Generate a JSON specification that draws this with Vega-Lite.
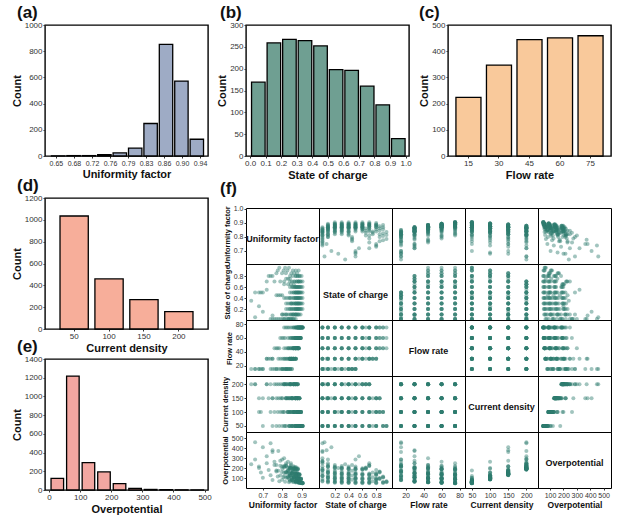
{
  "$schema": "https://vega.github.io/schema/vega-lite/v6.json",
  "background": "white",
  "padding": {"left": 10, "top": 3, "right": 5, "bottom": 5},
  "spacing": 3,
  "datasets": {
    "ufh": [
      {"lo": 0.638, "hi": 0.669, "n": 1}, {"lo": 0.669, "hi": 0.7, "n": 3}, {"lo": 0.7, "hi": 0.731, "n": 3},
      {"lo": 0.731, "hi": 0.762, "n": 10}, {"lo": 0.762, "hi": 0.793, "n": 24}, {"lo": 0.793, "hi": 0.824, "n": 60},
      {"lo": 0.824, "hi": 0.855, "n": 248}, {"lo": 0.855, "hi": 0.886, "n": 852}, {"lo": 0.886, "hi": 0.917, "n": 572},
      {"lo": 0.917, "hi": 0.948, "n": 128}
    ],
    "soch": [
      {"lo": 0.0, "hi": 0.1, "n": 169}, {"lo": 0.1, "hi": 0.2, "n": 259}, {"lo": 0.2, "hi": 0.3, "n": 267},
      {"lo": 0.3, "hi": 0.4, "n": 264}, {"lo": 0.4, "hi": 0.5, "n": 252}, {"lo": 0.5, "hi": 0.6, "n": 198},
      {"lo": 0.6, "hi": 0.7, "n": 196}, {"lo": 0.7, "hi": 0.8, "n": 160}, {"lo": 0.8, "hi": 0.9, "n": 117},
      {"lo": 0.9, "hi": 1.0, "n": 40}
    ],
    "flowh": [
      {"flow": 15, "n": 224}, {"flow": 30, "n": 347}, {"flow": 45, "n": 444}, {"flow": 60, "n": 451}, {"flow": 75, "n": 459}
    ],
    "cdh": [
      {"cd": 50, "n": 1035}, {"cd": 100, "n": 459}, {"cd": 150, "n": 269}, {"cd": 200, "n": 159}
    ],
    "oph": [
      {"lo": 0, "hi": 50, "n": 125}, {"lo": 50, "hi": 100, "n": 1218}, {"lo": 100, "hi": 150, "n": 293},
      {"lo": 150, "hi": 200, "n": 193}, {"lo": 200, "hi": 250, "n": 68}, {"lo": 250, "hi": 300, "n": 18},
      {"lo": 300, "hi": 350, "n": 6}, {"lo": 350, "hi": 400, "n": 4}, {"lo": 400, "hi": 450, "n": 2},
      {"lo": 450, "hi": 500, "n": 1}
    ],
    "samples": [
      {"s": 0.02, "u": 0.77, "f": 15, "c": 50, "o": 176}, {"s": 0.1, "u": 0.82, "f": 15, "c": 50, "o": 104},
      {"s": 0.2, "u": 0.85, "f": 15, "c": 50, "o": 84}, {"s": 0.3, "u": 0.85, "f": 15, "c": 50, "o": 80},
      {"s": 0.4, "u": 0.84, "f": 15, "c": 50, "o": 78}, {"s": 0.45, "u": 0.8, "f": 15, "c": 50, "o": 84},
      {"s": 0.5, "u": 0.7, "f": 15, "c": 50, "o": 104},
      {"s": 0.02, "u": 0.76, "f": 15, "c": 100, "o": 264}, {"s": 0.1, "u": 0.81, "f": 15, "c": 100, "o": 156},
      {"s": 0.2, "u": 0.84, "f": 15, "c": 100, "o": 126}, {"s": 0.3, "u": 0.84, "f": 15, "c": 100, "o": 120},
      {"s": 0.4, "u": 0.83, "f": 15, "c": 100, "o": 118}, {"s": 0.45, "u": 0.79, "f": 15, "c": 100, "o": 126},
      {"s": 0.5, "u": 0.69, "f": 15, "c": 100, "o": 156},
      {"s": 0.02, "u": 0.75, "f": 15, "c": 150, "o": 363}, {"s": 0.1, "u": 0.8, "f": 15, "c": 150, "o": 215},
      {"s": 0.2, "u": 0.83, "f": 15, "c": 150, "o": 173}, {"s": 0.3, "u": 0.83, "f": 15, "c": 150, "o": 165},
      {"s": 0.4, "u": 0.82, "f": 15, "c": 150, "o": 162}, {"s": 0.45, "u": 0.78, "f": 15, "c": 150, "o": 173},
      {"s": 0.5, "u": 0.68, "f": 15, "c": 150, "o": 215},
      {"s": 0.02, "u": 0.74, "f": 15, "c": 200, "o": 450}, {"s": 0.1, "u": 0.8, "f": 15, "c": 200, "o": 286},
      {"s": 0.2, "u": 0.82, "f": 15, "c": 200, "o": 231}, {"s": 0.3, "u": 0.82, "f": 15, "c": 200, "o": 220},
      {"s": 0.4, "u": 0.81, "f": 15, "c": 200, "o": 216}, {"s": 0.45, "u": 0.77, "f": 15, "c": 200, "o": 231},
      {"s": 0.5, "u": 0.66, "f": 15, "c": 200, "o": 286},
      {"s": 0.02, "u": 0.81, "f": 30, "c": 50, "o": 121}, {"s": 0.1, "u": 0.85, "f": 30, "c": 50, "o": 80},
      {"s": 0.2, "u": 0.87, "f": 30, "c": 50, "o": 70}, {"s": 0.3, "u": 0.87, "f": 30, "c": 50, "o": 67},
      {"s": 0.4, "u": 0.87, "f": 30, "c": 50, "o": 66}, {"s": 0.5, "u": 0.87, "f": 30, "c": 50, "o": 65},
      {"s": 0.6, "u": 0.87, "f": 30, "c": 50, "o": 64}, {"s": 0.7, "u": 0.86, "f": 30, "c": 50, "o": 64},
      {"s": 0.75, "u": 0.84, "f": 30, "c": 50, "o": 68}, {"s": 0.8, "u": 0.75, "f": 30, "c": 50, "o": 80},
      {"s": 0.02, "u": 0.8, "f": 30, "c": 100, "o": 193}, {"s": 0.1, "u": 0.84, "f": 30, "c": 100, "o": 128},
      {"s": 0.2, "u": 0.86, "f": 30, "c": 100, "o": 112}, {"s": 0.3, "u": 0.86, "f": 30, "c": 100, "o": 107},
      {"s": 0.4, "u": 0.86, "f": 30, "c": 100, "o": 105}, {"s": 0.5, "u": 0.86, "f": 30, "c": 100, "o": 104},
      {"s": 0.6, "u": 0.86, "f": 30, "c": 100, "o": 103}, {"s": 0.7, "u": 0.85, "f": 30, "c": 100, "o": 103},
      {"s": 0.75, "u": 0.83, "f": 30, "c": 100, "o": 109}, {"s": 0.8, "u": 0.74, "f": 30, "c": 100, "o": 128},
      {"s": 0.02, "u": 0.79, "f": 30, "c": 150, "o": 274}, {"s": 0.1, "u": 0.83, "f": 30, "c": 150, "o": 182},
      {"s": 0.2, "u": 0.85, "f": 30, "c": 150, "o": 160}, {"s": 0.3, "u": 0.85, "f": 30, "c": 150, "o": 152},
      {"s": 0.4, "u": 0.85, "f": 30, "c": 150, "o": 150}, {"s": 0.5, "u": 0.85, "f": 30, "c": 150, "o": 147},
      {"s": 0.6, "u": 0.85, "f": 30, "c": 150, "o": 146}, {"s": 0.7, "u": 0.84, "f": 30, "c": 150, "o": 146},
      {"s": 0.75, "u": 0.82, "f": 30, "c": 150, "o": 155}, {"s": 0.8, "u": 0.73, "f": 30, "c": 150, "o": 182},
      {"s": 0.02, "u": 0.78, "f": 30, "c": 200, "o": 373}, {"s": 0.1, "u": 0.82, "f": 30, "c": 200, "o": 248},
      {"s": 0.2, "u": 0.84, "f": 30, "c": 200, "o": 217}, {"s": 0.3, "u": 0.845, "f": 30, "c": 200, "o": 207},
      {"s": 0.4, "u": 0.84, "f": 30, "c": 200, "o": 204}, {"s": 0.5, "u": 0.84, "f": 30, "c": 200, "o": 201},
      {"s": 0.6, "u": 0.84, "f": 30, "c": 200, "o": 199}, {"s": 0.65, "u": 0.81, "f": 30, "c": 200, "o": 205},
      {"s": 0.7, "u": 0.72, "f": 30, "c": 200, "o": 248},
      {"s": 0.02, "u": 0.835, "f": 45, "c": 50, "o": 90}, {"s": 0.1, "u": 0.87, "f": 45, "c": 50, "o": 69},
      {"s": 0.2, "u": 0.885, "f": 45, "c": 50, "o": 62}, {"s": 0.3, "u": 0.885, "f": 45, "c": 50, "o": 60},
      {"s": 0.4, "u": 0.885, "f": 45, "c": 50, "o": 59}, {"s": 0.5, "u": 0.885, "f": 45, "c": 50, "o": 58},
      {"s": 0.6, "u": 0.885, "f": 45, "c": 50, "o": 58}, {"s": 0.7, "u": 0.885, "f": 45, "c": 50, "o": 57},
      {"s": 0.8, "u": 0.88, "f": 45, "c": 50, "o": 57}, {"s": 0.9, "u": 0.855, "f": 45, "c": 50, "o": 60},
      {"s": 0.95, "u": 0.785, "f": 45, "c": 50, "o": 69},
      {"s": 0.02, "u": 0.83, "f": 45, "c": 100, "o": 150}, {"s": 0.1, "u": 0.86, "f": 45, "c": 100, "o": 115},
      {"s": 0.2, "u": 0.877, "f": 45, "c": 100, "o": 104}, {"s": 0.3, "u": 0.877, "f": 45, "c": 100, "o": 100},
      {"s": 0.4, "u": 0.877, "f": 45, "c": 100, "o": 99}, {"s": 0.5, "u": 0.877, "f": 45, "c": 100, "o": 97},
      {"s": 0.6, "u": 0.877, "f": 45, "c": 100, "o": 96}, {"s": 0.7, "u": 0.875, "f": 45, "c": 100, "o": 95},
      {"s": 0.8, "u": 0.87, "f": 45, "c": 100, "o": 95}, {"s": 0.85, "u": 0.847, "f": 45, "c": 100, "o": 100},
      {"s": 0.9, "u": 0.777, "f": 45, "c": 100, "o": 115},
      {"s": 0.02, "u": 0.82, "f": 45, "c": 150, "o": 218}, {"s": 0.1, "u": 0.855, "f": 45, "c": 150, "o": 167},
      {"s": 0.2, "u": 0.869, "f": 45, "c": 150, "o": 151}, {"s": 0.3, "u": 0.869, "f": 45, "c": 150, "o": 145},
      {"s": 0.4, "u": 0.869, "f": 45, "c": 150, "o": 143}, {"s": 0.5, "u": 0.869, "f": 45, "c": 150, "o": 141},
      {"s": 0.6, "u": 0.869, "f": 45, "c": 150, "o": 139}, {"s": 0.7, "u": 0.865, "f": 45, "c": 150, "o": 138},
      {"s": 0.8, "u": 0.84, "f": 45, "c": 150, "o": 145}, {"s": 0.85, "u": 0.77, "f": 45, "c": 150, "o": 167},
      {"s": 0.02, "u": 0.81, "f": 45, "c": 200, "o": 300}, {"s": 0.1, "u": 0.845, "f": 45, "c": 200, "o": 230},
      {"s": 0.2, "u": 0.86, "f": 45, "c": 200, "o": 208}, {"s": 0.3, "u": 0.86, "f": 45, "c": 200, "o": 200},
      {"s": 0.4, "u": 0.86, "f": 45, "c": 200, "o": 197}, {"s": 0.5, "u": 0.86, "f": 45, "c": 200, "o": 194},
      {"s": 0.6, "u": 0.855, "f": 45, "c": 200, "o": 192}, {"s": 0.65, "u": 0.83, "f": 45, "c": 200, "o": 200},
      {"s": 0.7, "u": 0.76, "f": 45, "c": 200, "o": 230},
      {"s": 0.02, "u": 0.855, "f": 60, "c": 50, "o": 74}, {"s": 0.1, "u": 0.883, "f": 60, "c": 50, "o": 62},
      {"s": 0.2, "u": 0.895, "f": 60, "c": 50, "o": 57}, {"s": 0.3, "u": 0.895, "f": 60, "c": 50, "o": 55},
      {"s": 0.4, "u": 0.895, "f": 60, "c": 50, "o": 54}, {"s": 0.5, "u": 0.895, "f": 60, "c": 50, "o": 53},
      {"s": 0.6, "u": 0.895, "f": 60, "c": 50, "o": 53}, {"s": 0.7, "u": 0.895, "f": 60, "c": 50, "o": 52},
      {"s": 0.8, "u": 0.89, "f": 60, "c": 50, "o": 52}, {"s": 0.9, "u": 0.87, "f": 60, "c": 50, "o": 55},
      {"s": 0.95, "u": 0.815, "f": 60, "c": 50, "o": 63},
      {"s": 0.02, "u": 0.847, "f": 60, "c": 100, "o": 128}, {"s": 0.1, "u": 0.875, "f": 60, "c": 100, "o": 106},
      {"s": 0.2, "u": 0.887, "f": 60, "c": 100, "o": 99}, {"s": 0.3, "u": 0.887, "f": 60, "c": 100, "o": 95},
      {"s": 0.4, "u": 0.887, "f": 60, "c": 100, "o": 94}, {"s": 0.5, "u": 0.887, "f": 60, "c": 100, "o": 92},
      {"s": 0.6, "u": 0.887, "f": 60, "c": 100, "o": 91}, {"s": 0.7, "u": 0.885, "f": 60, "c": 100, "o": 90},
      {"s": 0.8, "u": 0.88, "f": 60, "c": 100, "o": 90}, {"s": 0.85, "u": 0.862, "f": 60, "c": 100, "o": 95},
      {"s": 0.9, "u": 0.807, "f": 60, "c": 100, "o": 109},
      {"s": 0.02, "u": 0.839, "f": 60, "c": 150, "o": 189}, {"s": 0.1, "u": 0.867, "f": 60, "c": 150, "o": 157},
      {"s": 0.2, "u": 0.879, "f": 60, "c": 150, "o": 146}, {"s": 0.3, "u": 0.879, "f": 60, "c": 150, "o": 140},
      {"s": 0.4, "u": 0.879, "f": 60, "c": 150, "o": 138}, {"s": 0.5, "u": 0.879, "f": 60, "c": 150, "o": 136},
      {"s": 0.6, "u": 0.879, "f": 60, "c": 150, "o": 134}, {"s": 0.7, "u": 0.875, "f": 60, "c": 150, "o": 133},
      {"s": 0.8, "u": 0.854, "f": 60, "c": 150, "o": 140}, {"s": 0.85, "u": 0.799, "f": 60, "c": 150, "o": 161},
      {"s": 0.02, "u": 0.83, "f": 60, "c": 200, "o": 263}, {"s": 0.1, "u": 0.858, "f": 60, "c": 200, "o": 218},
      {"s": 0.2, "u": 0.87, "f": 60, "c": 200, "o": 203}, {"s": 0.3, "u": 0.87, "f": 60, "c": 200, "o": 195},
      {"s": 0.4, "u": 0.87, "f": 60, "c": 200, "o": 192}, {"s": 0.5, "u": 0.87, "f": 60, "c": 200, "o": 189},
      {"s": 0.6, "u": 0.865, "f": 60, "c": 200, "o": 187}, {"s": 0.65, "u": 0.845, "f": 60, "c": 200, "o": 195},
      {"s": 0.7, "u": 0.79, "f": 60, "c": 200, "o": 224},
      {"s": 0.02, "u": 0.87, "f": 75, "c": 50, "o": 66}, {"s": 0.1, "u": 0.895, "f": 75, "c": 50, "o": 56},
      {"s": 0.2, "u": 0.905, "f": 75, "c": 50, "o": 53}, {"s": 0.3, "u": 0.905, "f": 75, "c": 50, "o": 51},
      {"s": 0.4, "u": 0.905, "f": 75, "c": 50, "o": 50}, {"s": 0.5, "u": 0.905, "f": 75, "c": 50, "o": 49},
      {"s": 0.6, "u": 0.905, "f": 75, "c": 50, "o": 49}, {"s": 0.7, "u": 0.905, "f": 75, "c": 50, "o": 48},
      {"s": 0.8, "u": 0.9, "f": 75, "c": 50, "o": 48}, {"s": 0.9, "u": 0.885, "f": 75, "c": 50, "o": 51},
      {"s": 0.95, "u": 0.835, "f": 75, "c": 50, "o": 59},
      {"s": 0.02, "u": 0.862, "f": 75, "c": 100, "o": 118}, {"s": 0.1, "u": 0.887, "f": 75, "c": 100, "o": 100},
      {"s": 0.2, "u": 0.897, "f": 75, "c": 100, "o": 95}, {"s": 0.3, "u": 0.897, "f": 75, "c": 100, "o": 91},
      {"s": 0.4, "u": 0.897, "f": 75, "c": 100, "o": 90}, {"s": 0.5, "u": 0.897, "f": 75, "c": 100, "o": 88},
      {"s": 0.6, "u": 0.897, "f": 75, "c": 100, "o": 87}, {"s": 0.7, "u": 0.895, "f": 75, "c": 100, "o": 86},
      {"s": 0.8, "u": 0.89, "f": 75, "c": 100, "o": 86}, {"s": 0.85, "u": 0.877, "f": 75, "c": 100, "o": 91},
      {"s": 0.9, "u": 0.827, "f": 75, "c": 100, "o": 105},
      {"s": 0.02, "u": 0.854, "f": 75, "c": 150, "o": 177}, {"s": 0.1, "u": 0.879, "f": 75, "c": 150, "o": 150},
      {"s": 0.2, "u": 0.889, "f": 75, "c": 150, "o": 141}, {"s": 0.3, "u": 0.889, "f": 75, "c": 150, "o": 136},
      {"s": 0.4, "u": 0.889, "f": 75, "c": 150, "o": 134}, {"s": 0.5, "u": 0.889, "f": 75, "c": 150, "o": 132},
      {"s": 0.6, "u": 0.889, "f": 75, "c": 150, "o": 130}, {"s": 0.7, "u": 0.885, "f": 75, "c": 150, "o": 129},
      {"s": 0.8, "u": 0.869, "f": 75, "c": 150, "o": 136}, {"s": 0.85, "u": 0.819, "f": 75, "c": 150, "o": 156},
      {"s": 0.02, "u": 0.845, "f": 75, "c": 200, "o": 248}, {"s": 0.1, "u": 0.87, "f": 75, "c": 200, "o": 210},
      {"s": 0.2, "u": 0.88, "f": 75, "c": 200, "o": 199}, {"s": 0.3, "u": 0.88, "f": 75, "c": 200, "o": 191},
      {"s": 0.4, "u": 0.88, "f": 75, "c": 200, "o": 188}, {"s": 0.5, "u": 0.88, "f": 75, "c": 200, "o": 185},
      {"s": 0.6, "u": 0.875, "f": 75, "c": 200, "o": 183}, {"s": 0.65, "u": 0.86, "f": 75, "c": 200, "o": 191},
      {"s": 0.7, "u": 0.81, "f": 75, "c": 200, "o": 220},
      {"s": 0.05, "u": 0.66, "f": 15, "c": 200, "o": 460}, {"s": 0.35, "u": 0.64, "f": 15, "c": 200, "o": 240},
      {"s": 0.15, "u": 0.7, "f": 15, "c": 150, "o": 410}, {"s": 0.55, "u": 0.72, "f": 30, "c": 200, "o": 320},
      {"s": 0.08, "u": 0.75, "f": 30, "c": 150, "o": 380}, {"s": 0.25, "u": 0.68, "f": 15, "c": 100, "o": 200}
    ]
  },
  "hconcat": [
    {
      "spacing": -4,
      "vconcat": [
        {
          "width": 163, "height": 131,
          "title": {"text": "(a)", "dx": -28, "offset": -1},
          "data": {"name": "ufh"},
          "mark": {"type": "bar", "color": "#9eabc5", "stroke": "black", "strokeWidth": 1.3, "binSpacing": 2},
          "encoding": {
            "x": {"field": "lo", "bin": "binned", "type": "quantitative", "scale": {"domain": [0.628, 0.956], "nice": false, "zero": false},
                  "axis": {"values": [0.65, 0.68625, 0.7225, 0.75875, 0.795, 0.83125, 0.8675, 0.90375, 0.94],
                           "labelExpr": "['0.65','0.68','0.72','0.76','0.79','0.83','0.86','0.90','0.94'][round((datum.value - 0.65) / 0.03625)]",
                           "title": "Uniformity factor", "labelFontSize": 7}},
            "x2": {"field": "hi"},
            "y": {"field": "n", "type": "quantitative", "scale": {"domain": [0, 1000], "nice": false}, "axis": {"values": [0, 200, 400, 600, 800, 1000], "format": "d", "title": "Count"}}
          }
        },
        {
          "spacing": -17,
          "vconcat": [
            {
              "width": 163, "height": 131,
              "title": {"text": "(d)", "dx": -28, "offset": -1},
              "data": {"name": "cdh"},
              "mark": {"type": "bar", "color": "#f7ae9a", "stroke": "black", "strokeWidth": 1.3},
              "encoding": {
                "x": {"field": "cd", "type": "ordinal", "scale": {"paddingInner": 0.19, "paddingOuter": 0.43}, "axis": {"labelAngle": 0, "title": "Current density"}},
                "y": {"field": "n", "type": "quantitative", "scale": {"domain": [0, 1200], "nice": false}, "axis": {"values": [0, 200, 400, 600, 800, 1000, 1200], "format": "d", "title": "Count"}}
              }
            },
            {
              "width": 163, "height": 131,
              "title": {"text": "(e)", "dx": -28, "offset": -1},
              "data": {"name": "oph"},
              "mark": {"type": "bar", "color": "#f3a7a1", "stroke": "black", "strokeWidth": 1.3, "binSpacing": 3},
              "encoding": {
                "x": {"field": "lo", "bin": "binned", "type": "quantitative", "scale": {"domain": [-13, 511], "nice": false, "zero": false},
                      "axis": {"values": [0, 100, 200, 300, 400, 500], "title": "Overpotential"}},
                "x2": {"field": "hi"},
                "y": {"field": "n", "type": "quantitative", "scale": {"domain": [0, 1400], "nice": false}, "axis": {"values": [0, 200, 400, 600, 800, 1000, 1200, 1400], "format": "d", "title": "Count"}}
              }
            }
          ]
        }
      ]
    },
    {
      "spacing": -2,
      "vconcat": [
        {
          "spacing": 5,
          "hconcat": [
            {
              "width": 163, "height": 131,
              "title": {"text": "(b)", "dx": -26, "offset": -1},
              "data": {"name": "soch"},
              "mark": {"type": "bar", "color": "#6f9f92", "stroke": "black", "strokeWidth": 1.3, "binSpacing": 2},
              "encoding": {
                "x": {"field": "lo", "bin": "binned", "type": "quantitative", "scale": {"domain": [-0.026, 1.022], "nice": false, "zero": false},
                      "axis": {"values": [0, 0.1, 0.2, 0.3, 0.4, 0.5, 0.6, 0.7, 0.8, 0.9, 1.0], "format": ".1f", "title": "State of charge"}},
                "x2": {"field": "hi"},
                "y": {"field": "n", "type": "quantitative", "scale": {"domain": [0, 300], "nice": false}, "axis": {"values": [0, 50, 100, 150, 200, 250, 300], "title": "Count"}}
              }
            },
            {
              "width": 163, "height": 131,
              "title": {"text": "(c)", "dx": -29, "offset": -1},
              "data": {"name": "flowh"},
              "mark": {"type": "bar", "color": "#f9c99b", "stroke": "black", "strokeWidth": 1.3},
              "encoding": {
                "x": {"field": "flow", "type": "ordinal", "scale": {"paddingInner": 0.18, "paddingOuter": 0.26}, "axis": {"labelAngle": 0, "title": "Flow rate"}},
                "y": {"field": "n", "type": "quantitative", "scale": {"domain": [0, 500], "nice": false}, "axis": {"values": [0, 100, 200, 300, 400, 500], "title": "Count"}}
              }
            }
          ]
        },
        {
          "bounds": "flush",
          "spacing": 0,
          "columns": 5,
          "concat": [
            {
              "width": 73, "height": 56,
              "title": {"text": "(f)", "dx": -26, "offset": 7},
              "view": {"stroke": "black", "strokeWidth": 1},
              "data": {"values": [{"t": "Uniformity factor"}]},
              "mark": {"type": "text", "fontWeight": "bold", "fontSize": 9, "dy": 3},
              "encoding": {
                "text": {"field": "t"},
                "y": {"datum": 0.807, "type": "quantitative", "scale": {"domain": [0.607, 1.007], "nice": false, "zero": false},
                      "axis": {"values": [0.7, 0.8, 0.9, 1.0], "format": ".1f", "title": "Uniformity factor", "labelFontSize": 7, "titleFontSize": 7.5, "tickSize": 2}}
              }
            },
            {
              "width": 73, "height": 56, "view": {"stroke": "black", "strokeWidth": 1},
              "data": {"name": "samples"},
              "mark": {"type": "circle", "size": 16, "opacity": 0.45, "color": "#2e7d6e", "clip": true},
              "encoding": {
                "x": {"field": "s", "type": "quantitative", "scale": {"domain": [-0.03, 1.03], "nice": false, "zero": false}, "axis": null},
                "y": {"field": "u", "type": "quantitative", "scale": {"domain": [0.607, 1.007], "nice": false, "zero": false}, "axis": null}
              }
            },
            {
              "width": 73, "height": 56, "view": {"stroke": "black", "strokeWidth": 1},
              "data": {"name": "samples"},
              "mark": {"type": "circle", "size": 16, "opacity": 0.45, "color": "#2e7d6e", "clip": true},
              "encoding": {
                "x": {"field": "f", "type": "quantitative", "scale": {"domain": [5, 86], "nice": false, "zero": false}, "axis": null},
                "y": {"field": "u", "type": "quantitative", "scale": {"domain": [0.607, 1.007], "nice": false, "zero": false}, "axis": null}
              }
            },
            {
              "width": 73, "height": 56, "view": {"stroke": "black", "strokeWidth": 1},
              "data": {"name": "samples"},
              "mark": {"type": "circle", "size": 16, "opacity": 0.45, "color": "#2e7d6e", "clip": true},
              "encoding": {
                "x": {"field": "c", "type": "quantitative", "scale": {"domain": [31, 232], "nice": false, "zero": false}, "axis": null},
                "y": {"field": "u", "type": "quantitative", "scale": {"domain": [0.607, 1.007], "nice": false, "zero": false}, "axis": null}
              }
            },
            {
              "width": 73, "height": 56, "view": {"stroke": "black", "strokeWidth": 1},
              "data": {"name": "samples"},
              "mark": {"type": "circle", "size": 16, "opacity": 0.45, "color": "#2e7d6e", "clip": true},
              "encoding": {
                "x": {"field": "o", "type": "quantitative", "scale": {"domain": [10, 555], "nice": false, "zero": false}, "axis": null},
                "y": {"field": "u", "type": "quantitative", "scale": {"domain": [0.607, 1.007], "nice": false, "zero": false}, "axis": null}
              }
            },
            {
              "width": 73, "height": 56, "view": {"stroke": "black", "strokeWidth": 1},
              "data": {"name": "samples"},
              "mark": {"type": "circle", "size": 16, "opacity": 0.45, "color": "#2e7d6e", "clip": true},
              "encoding": {
                "x": {"field": "u", "type": "quantitative", "scale": {"domain": [0.613, 0.99], "nice": false, "zero": false}, "axis": null},
                "y": {"field": "s", "type": "quantitative", "scale": {"domain": [0, 1.02], "nice": false, "zero": false},
                      "axis": {"values": [0.2, 0.4, 0.6, 0.8], "format": ".1f", "title": "State of charge", "labelFontSize": 7, "titleFontSize": 7.5, "tickSize": 2}}
              }
            },
            {
              "width": 73, "height": 56, "view": {"stroke": "black", "strokeWidth": 1},
              "data": {"values": [{"t": "State of charge"}]},
              "mark": {"type": "text", "fontWeight": "bold", "fontSize": 9, "dy": 3},
              "encoding": {"text": {"field": "t"}}
            },
            {
              "width": 73, "height": 56, "view": {"stroke": "black", "strokeWidth": 1},
              "data": {"name": "samples"},
              "mark": {"type": "circle", "size": 16, "opacity": 0.45, "color": "#2e7d6e", "clip": true},
              "encoding": {
                "x": {"field": "f", "type": "quantitative", "scale": {"domain": [5, 86], "nice": false, "zero": false}, "axis": null},
                "y": {"field": "s", "type": "quantitative", "scale": {"domain": [0, 1.02], "nice": false, "zero": false}, "axis": null}
              }
            },
            {
              "width": 73, "height": 56, "view": {"stroke": "black", "strokeWidth": 1},
              "data": {"name": "samples"},
              "mark": {"type": "circle", "size": 16, "opacity": 0.45, "color": "#2e7d6e", "clip": true},
              "encoding": {
                "x": {"field": "c", "type": "quantitative", "scale": {"domain": [31, 232], "nice": false, "zero": false}, "axis": null},
                "y": {"field": "s", "type": "quantitative", "scale": {"domain": [0, 1.02], "nice": false, "zero": false}, "axis": null}
              }
            },
            {
              "width": 73, "height": 56, "view": {"stroke": "black", "strokeWidth": 1},
              "data": {"name": "samples"},
              "mark": {"type": "circle", "size": 16, "opacity": 0.45, "color": "#2e7d6e", "clip": true},
              "encoding": {
                "x": {"field": "o", "type": "quantitative", "scale": {"domain": [10, 555], "nice": false, "zero": false}, "axis": null},
                "y": {"field": "s", "type": "quantitative", "scale": {"domain": [0, 1.02], "nice": false, "zero": false}, "axis": null}
              }
            },
            {
              "width": 73, "height": 56, "view": {"stroke": "black", "strokeWidth": 1},
              "data": {"name": "samples"},
              "mark": {"type": "circle", "size": 16, "opacity": 0.45, "color": "#2e7d6e", "clip": true},
              "encoding": {
                "x": {"field": "u", "type": "quantitative", "scale": {"domain": [0.613, 0.99], "nice": false, "zero": false}, "axis": null},
                "y": {"field": "f", "type": "quantitative", "scale": {"domain": [5, 86], "nice": false, "zero": false},
                      "axis": {"values": [20, 40, 60, 80], "title": "Flow rate", "labelFontSize": 7, "titleFontSize": 7.5, "tickSize": 2}}
              }
            },
            {
              "width": 73, "height": 56, "view": {"stroke": "black", "strokeWidth": 1},
              "data": {"name": "samples"},
              "mark": {"type": "circle", "size": 16, "opacity": 0.45, "color": "#2e7d6e", "clip": true},
              "encoding": {
                "x": {"field": "s", "type": "quantitative", "scale": {"domain": [-0.03, 1.03], "nice": false, "zero": false}, "axis": null},
                "y": {"field": "f", "type": "quantitative", "scale": {"domain": [5, 86], "nice": false, "zero": false}, "axis": null}
              }
            },
            {
              "width": 73, "height": 56, "view": {"stroke": "black", "strokeWidth": 1},
              "data": {"values": [{"t": "Flow rate"}]},
              "mark": {"type": "text", "fontWeight": "bold", "fontSize": 9, "dy": 3},
              "encoding": {"text": {"field": "t"}}
            },
            {
              "width": 73, "height": 56, "view": {"stroke": "black", "strokeWidth": 1},
              "data": {"name": "samples"},
              "mark": {"type": "circle", "size": 16, "opacity": 0.45, "color": "#2e7d6e", "clip": true},
              "encoding": {
                "x": {"field": "c", "type": "quantitative", "scale": {"domain": [31, 232], "nice": false, "zero": false}, "axis": null},
                "y": {"field": "f", "type": "quantitative", "scale": {"domain": [5, 86], "nice": false, "zero": false}, "axis": null}
              }
            },
            {
              "width": 73, "height": 56, "view": {"stroke": "black", "strokeWidth": 1},
              "data": {"name": "samples"},
              "mark": {"type": "circle", "size": 16, "opacity": 0.45, "color": "#2e7d6e", "clip": true},
              "encoding": {
                "x": {"field": "o", "type": "quantitative", "scale": {"domain": [10, 555], "nice": false, "zero": false}, "axis": null},
                "y": {"field": "f", "type": "quantitative", "scale": {"domain": [5, 86], "nice": false, "zero": false}, "axis": null}
              }
            },
            {
              "width": 73, "height": 56, "view": {"stroke": "black", "strokeWidth": 1},
              "data": {"name": "samples"},
              "mark": {"type": "circle", "size": 16, "opacity": 0.45, "color": "#2e7d6e", "clip": true},
              "encoding": {
                "x": {"field": "u", "type": "quantitative", "scale": {"domain": [0.613, 0.99], "nice": false, "zero": false}, "axis": null},
                "y": {"field": "c", "type": "quantitative", "scale": {"domain": [28, 230], "nice": false, "zero": false},
                      "axis": {"values": [50, 100, 150, 200], "title": "Current density", "labelFontSize": 7, "titleFontSize": 7.5, "tickSize": 2}}
              }
            },
            {
              "width": 73, "height": 56, "view": {"stroke": "black", "strokeWidth": 1},
              "data": {"name": "samples"},
              "mark": {"type": "circle", "size": 16, "opacity": 0.45, "color": "#2e7d6e", "clip": true},
              "encoding": {
                "x": {"field": "s", "type": "quantitative", "scale": {"domain": [-0.03, 1.03], "nice": false, "zero": false}, "axis": null},
                "y": {"field": "c", "type": "quantitative", "scale": {"domain": [28, 230], "nice": false, "zero": false}, "axis": null}
              }
            },
            {
              "width": 73, "height": 56, "view": {"stroke": "black", "strokeWidth": 1},
              "data": {"name": "samples"},
              "mark": {"type": "circle", "size": 16, "opacity": 0.45, "color": "#2e7d6e", "clip": true},
              "encoding": {
                "x": {"field": "f", "type": "quantitative", "scale": {"domain": [5, 86], "nice": false, "zero": false}, "axis": null},
                "y": {"field": "c", "type": "quantitative", "scale": {"domain": [28, 230], "nice": false, "zero": false}, "axis": null}
              }
            },
            {
              "width": 73, "height": 56, "view": {"stroke": "black", "strokeWidth": 1},
              "data": {"values": [{"t": "Current density"}]},
              "mark": {"type": "text", "fontWeight": "bold", "fontSize": 9, "dy": 3},
              "encoding": {"text": {"field": "t"}}
            },
            {
              "width": 73, "height": 56, "view": {"stroke": "black", "strokeWidth": 1},
              "data": {"name": "samples"},
              "mark": {"type": "circle", "size": 16, "opacity": 0.45, "color": "#2e7d6e", "clip": true},
              "encoding": {
                "x": {"field": "o", "type": "quantitative", "scale": {"domain": [10, 555], "nice": false, "zero": false}, "axis": null},
                "y": {"field": "c", "type": "quantitative", "scale": {"domain": [28, 230], "nice": false, "zero": false}, "axis": null}
              }
            },
            {
              "width": 73, "height": 56, "view": {"stroke": "black", "strokeWidth": 1},
              "data": {"name": "samples"},
              "mark": {"type": "circle", "size": 16, "opacity": 0.45, "color": "#2e7d6e", "clip": true},
              "encoding": {
                "x": {"field": "u", "type": "quantitative", "scale": {"domain": [0.613, 0.99], "nice": false, "zero": false},
                      "axis": {"values": [0.7, 0.8, 0.9], "format": ".1f", "title": "Uniformity factor", "labelFontSize": 7, "titleFontSize": 8.5, "tickSize": 2}},
                "y": {"field": "o", "type": "quantitative", "scale": {"domain": [0, 563], "nice": false, "zero": false},
                      "axis": {"values": [100, 200, 300, 400, 500], "title": "Overpotential", "labelFontSize": 7, "titleFontSize": 7.5, "tickSize": 2}}
              }
            },
            {
              "width": 73, "height": 56, "view": {"stroke": "black", "strokeWidth": 1},
              "data": {"name": "samples"},
              "mark": {"type": "circle", "size": 16, "opacity": 0.45, "color": "#2e7d6e", "clip": true},
              "encoding": {
                "x": {"field": "s", "type": "quantitative", "scale": {"domain": [-0.03, 1.03], "nice": false, "zero": false},
                      "axis": {"values": [0.2, 0.4, 0.6, 0.8], "format": ".1f", "title": "State of charge", "labelFontSize": 7, "titleFontSize": 8.5, "tickSize": 2}},
                "y": {"field": "o", "type": "quantitative", "scale": {"domain": [0, 563], "nice": false, "zero": false}, "axis": null}
              }
            },
            {
              "width": 73, "height": 56, "view": {"stroke": "black", "strokeWidth": 1},
              "data": {"name": "samples"},
              "mark": {"type": "circle", "size": 16, "opacity": 0.45, "color": "#2e7d6e", "clip": true},
              "encoding": {
                "x": {"field": "f", "type": "quantitative", "scale": {"domain": [5, 86], "nice": false, "zero": false},
                      "axis": {"values": [20, 40, 60, 80], "title": "Flow rate", "labelFontSize": 7, "titleFontSize": 8.5, "tickSize": 2}},
                "y": {"field": "o", "type": "quantitative", "scale": {"domain": [0, 563], "nice": false, "zero": false}, "axis": null}
              }
            },
            {
              "width": 73, "height": 56, "view": {"stroke": "black", "strokeWidth": 1},
              "data": {"name": "samples"},
              "mark": {"type": "circle", "size": 16, "opacity": 0.45, "color": "#2e7d6e", "clip": true},
              "encoding": {
                "x": {"field": "c", "type": "quantitative", "scale": {"domain": [31, 232], "nice": false, "zero": false},
                      "axis": {"values": [50, 100, 150, 200], "title": "Current density", "labelFontSize": 7, "titleFontSize": 8.5, "tickSize": 2}},
                "y": {"field": "o", "type": "quantitative", "scale": {"domain": [0, 563], "nice": false, "zero": false}, "axis": null}
              }
            },
            {
              "width": 73, "height": 56, "view": {"stroke": "black", "strokeWidth": 1},
              "data": {"values": [{"t": "Overpotential"}]},
              "mark": {"type": "text", "fontWeight": "bold", "fontSize": 9, "dy": 3},
              "encoding": {
                "text": {"field": "t"},
                "x": {"datum": 282, "type": "quantitative", "scale": {"domain": [10, 555], "nice": false, "zero": false},
                      "axis": {"values": [100, 200, 300, 400, 500], "title": "Overpotential", "labelFontSize": 7, "titleFontSize": 8.5, "tickSize": 2}}
              }
            }
          ]
        }
      ]
    }
  ],
  "config": {
    "font": "Liberation Sans",
    "view": {"stroke": "black", "strokeWidth": 1.4},
    "axis": {
      "domain": false, "grid": false, "labelFontSize": 8, "labelColor": "#333333", "tickColor": "#333333",
      "tickSize": 2, "labelPadding": 1, "titleFontSize": 11, "titleFontWeight": "bold", "titleColor": "#111111",
      "titlePadding": 2, "labelFlush": false, "labelOverlap": false
    },
    "title": {"fontSize": 17, "fontWeight": "bold", "anchor": "start", "frame": "group", "color": "#111111"},
    "text": {"font": "Liberation Sans", "color": "#111111"}
  }
}
